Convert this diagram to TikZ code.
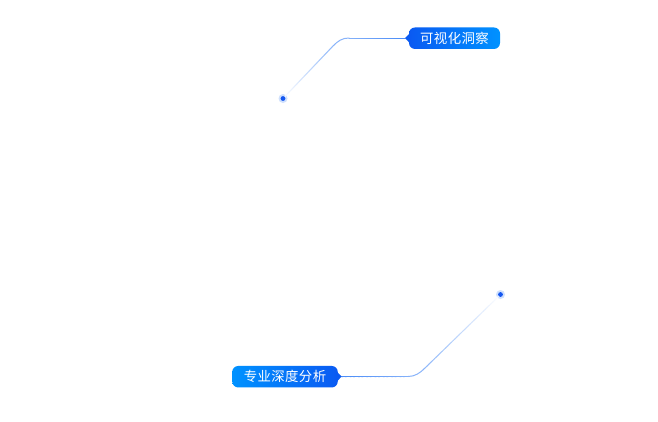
\documentclass[tikz,border=0pt]{standalone}
\usepackage{fontspec}
\newfontfamily\cjk[LetterSpace=3]{Noto Sans CJK SC}
\usetikzlibrary{calc}
\definecolor{tagdeep}{HTML}{0A5AF2}
\definecolor{tagsky}{HTML}{0092FF}
\definecolor{wire}{HTML}{4A8CF7}
\definecolor{dotcore}{HTML}{1557F0}
\definecolor{dothalo}{HTML}{CFE0FD}
\tikzset{
  tagbox/.style={rounded corners=6pt,inner sep=0pt,minimum height=21.5pt,text=white,
    font=\cjk\fontsize{13.4}{15}\selectfont,anchor=center},
  halo/.style={circle,fill=dothalo,minimum size=9pt,inner sep=0pt},
  core/.style={circle,fill=dotcore,minimum size=4.8pt,inner sep=0pt},
  wireline/.style={line width=1pt,line cap=round},
}
% gradient run: from #1 (#3 percent of wire) to #2 (#4 percent of wire)
\newcommand{\gradrun}[4]{%
  \foreach \k in {1,...,40}{%
    \pgfmathsetmacro{\ta}{(\k-1)/40}%
    \pgfmathsetmacro{\tb}{\k/40}%
    \pgfmathsetmacro{\pc}{#3+(#4-#3)*(\k-0.5)/40}%
    \draw[wireline,color=wire!\pc!white] ($(#1)!\ta!(#2)$) -- ($(#1)!\tb!(#2)$);
  }%
}
\begin{document}
\begin{tikzpicture}[x=1pt,y=-1pt]
\useasboundingbox (0,0) rectangle (658,421);
\fill[white] (0,0) rectangle (658,421);

% upper callout
\coordinate (tipa) at (405,38);
\coordinate (benda) at (349,38);
\coordinate (benda2) at (333,46);
\node[halo] (dota) at (283,98.5) {};
\gradrun{dota}{benda2}{0}{62}
\draw[wireline,color=wire!66!white] (benda2) .. controls (338,41) and (342,38) .. (benda);
\gradrun{benda}{tipa}{68}{100}
\node[core] at (dota) {};
\node[tagbox,left color=tagdeep,right color=tagsky,minimum width=91pt] (taga) at (454.5,38.2) {\raisebox{-0.6pt}{可视化洞察}};
\fill[tagdeep] ($(taga.west)+(1.5,-5.5)$) .. controls ($(taga.west)+(-0.5,-2.5)$) .. (tipa)
  .. controls ($(taga.west)+(-0.5,2.5)$) .. ($(taga.west)+(1.5,5.5)$) -- cycle;

% lower callout
\coordinate (tipb) at (341.5,376.5);
\coordinate (bendb) at (408,376.5);
\coordinate (bendb2) at (425,368);
\node[halo] (dotb) at (500.5,294.5) {};
\gradrun{dotb}{bendb2}{0}{62}
\draw[wireline,color=wire!66!white] (bendb2) .. controls (420,373) and (415,376.5) .. (bendb);
\gradrun{bendb}{tipb}{68}{100}
\node[core] at (dotb) {};
\node[tagbox,left color=tagsky,right color=tagdeep,minimum width=105.5pt] (tagb) at (285,376.7) {\raisebox{-0.6pt}{专业深度分析}};
\fill[tagdeep] ($(tagb.east)+(-1.5,-5.5)$) .. controls ($(tagb.east)+(0.5,-2.5)$) .. (tipb)
  .. controls ($(tagb.east)+(0.5,2.5)$) .. ($(tagb.east)+(-1.5,5.5)$) -- cycle;
\end{tikzpicture}
\end{document}
